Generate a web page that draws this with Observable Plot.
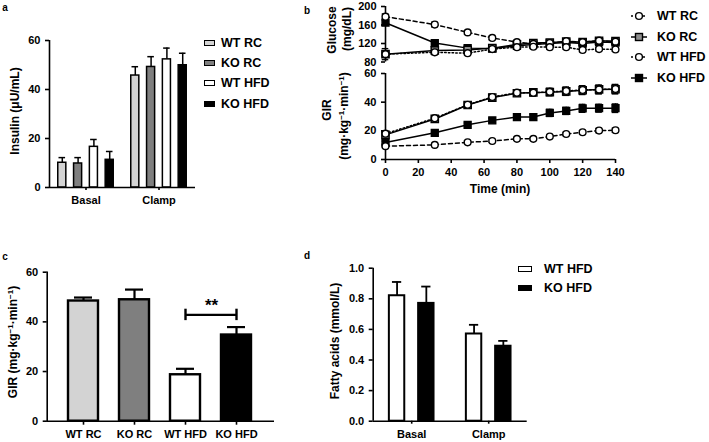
<!DOCTYPE html>
<html><head><meta charset="utf-8">
<script src="https://cdn.jsdelivr.net/npm/d3@7"></script>
<script src="https://cdn.jsdelivr.net/npm/@observablehq/plot@0.6"></script>
<style>
html,body{margin:0;padding:0;background:#fff;}
#root{position:relative;width:709px;height:442px;overflow:hidden;font-family:"Liberation Sans",Arial,sans-serif;font-weight:bold;color:#000;}
.lbl{position:absolute;font-size:11px;font-weight:bold;white-space:nowrap;line-height:1;}
.lbl sup{font-size:8px;vertical-align:baseline;position:relative;top:-4px;}
.panel{position:absolute;}
#root svg g[aria-label*="axis"] path,#root svg g[aria-label*="axis"] line{stroke-width:1.6px;}
#root svg [aria-label*="frame"],#root svg [aria-label*="frame"] *{stroke-width:1.6px;}
</style>
</head><body><div id="root"></div>
<script>
// ---------- data ----------
const groups = ["WT RC", "KO RC", "WT HFD", "KO HFD"];
const conditions = ["Basal", "Clamp"];

// panel a: insulin (µU/mL)
const insulinBasal = [10.1, 9.8, 16.6, 11.3];
const insulinBasalErr = [2.1, 2.4, 3.0, 3.4];
const insulinClamp = [45.7, 49.2, 52.3, 49.9];
const insulinClampErr = [3.6, 4.2, 4.6, 4.9];

// panel b: time course
const timeMin = [0, 30, 50, 65, 80, 90, 100, 110, 120, 130, 140];
const glucoseWTRC = [97, 101, 99, 108, 112, 113, 112, 112, 106, 108, 107];
const glucoseKORC = [97, 105, 106, 110, 118, 121, 122, 124, 123, 126, 125];
const glucoseWTHFD = [178, 161, 144, 132, 123, 119, 121, 125, 123, 126, 124];
const glucoseKOHFD = [165, 121, 110, 109, 115, 118, 120, 122, 120, 123, 122];
const glucoseWTRCErr = [12, 5, 4, 4, 4, 4, 4, 4, 4, 4, 4];
const glucoseKORCErr = [5, 4, 4, 4, 4, 5, 5, 5, 5, 5, 5];
const glucoseWTHFDErr = [6, 5, 4, 4, 4, 4, 4, 4, 4, 4, 4];
const glucoseKOHFDErr = [5, 4, 5, 4, 4, 4, 4, 5, 5, 5, 5];
const girWTRC = [18.0, 28.8, 38.2, 43.6, 46.6, 46.6, 47.2, 47.8, 48.5, 48.8, 49.2];
const girKORC = [17.2, 28.3, 38.0, 43.2, 46.2, 46.8, 47.0, 47.5, 48.3, 48.9, 49.0];
const girWTHFD = [9.3, 10.2, 12.0, 12.9, 14.4, 14.4, 16.0, 17.8, 19.0, 20.2, 20.4];
const girKOHFD = [11.8, 18.6, 24.2, 27.3, 29.6, 29.6, 32.5, 33.9, 35.7, 35.8, 35.8];
const girWTRCErr = [1.5, 1.5, 1.8, 2, 2, 2.2, 2.5, 2.8, 3, 3, 3.2];
const girKORCErr = [1.5, 1.5, 1.8, 2, 2, 2.2, 2.5, 2.8, 3, 3, 3.2];
const girWTHFDErr = [1, 1, 1, 1, 1, 1, 1, 1.2, 1.2, 1.5, 1.5];
const girKOHFDErr = [1, 1, 1.3, 1.5, 1.8, 1.8, 2.5, 2.5, 2.8, 2.8, 3];

// panel c: steady-state GIR
const girSteady = [48.4, 48.9, 18.7, 34.7];
const girSteadyErr = [1.4, 4.1, 2.4, 3.2];
const sigLevel = 42.8;

// panel d: fatty acids (mmol/L)
const hfdGroups = ["WT HFD", "KO HFD"];
const faBasal = [0.82, 0.77];
const faBasalErr = [0.09, 0.11];
const faClamp = [0.57, 0.49];
const faClampErr = [0.06, 0.035];

// ---------- styles ----------
const FONT = '"Liberation Sans", Arial, sans-serif';
const fills = ["#d3d3d3", "#7f7f7f", "#ffffff", "#000000"];
const svgStyle = {fontFamily: FONT, fontSize: "11px", fontWeight: "bold", overflow: "visible", background: "transparent", color: "#000"};
const TITLE = 12, LEG = 12.5;

const root = document.getElementById("root");
function put(node, left, top) { node.classList.add("panel"); node.style.left = left + "px"; node.style.top = top + "px"; root.appendChild(node); }
function label(html, cx, cy, opts = {}) {
  const d = document.createElement("div");
  d.className = "lbl";
  d.innerHTML = html;
  d.style.left = cx + "px"; d.style.top = cy + "px";
  if (opts.size) d.style.fontSize = opts.size + "px";
  d.style.transform = opts.rot ? "translate(-50%,-50%) rotate(-90deg)" : (opts.left ? "translate(0,-50%)" : "translate(-50%,-50%)");
  root.appendChild(d);
  return d;
}

// ---------- panel a ----------
{
  const off = d3.scaleBand().domain(groups).range([-0.38, 0.38]).paddingInner(0.49);
  const rows = [];
  conditions.forEach((c, ci) => groups.forEach((g, gi) => {
    const v = ci === 0 ? insulinBasal[gi] : insulinClamp[gi];
    const e = ci === 0 ? insulinBasalErr[gi] : insulinClampErr[gi];
    const x1 = ci + 0.5 + off(g), x2 = x1 + off.bandwidth();
    rows.push({cond: c, group: g, v, top: v + e, x1, x2, cx: (x1 + x2) / 2});
  }));
  const cap = 0.045;
  const p = Plot.plot({
    width: 200, height: 215, marginLeft: 49, marginRight: 5, marginTop: 40, marginBottom: 28,
    style: svgStyle,
    x: {domain: [0, 2], ticks: [0.5, 1.5], tickFormat: i => conditions[Math.floor(i)], tickSize: 3, label: null},
    y: {domain: [0, 60], ticks: [0, 20, 40, 60], tickSize: 4, label: null},
    color: {domain: groups, range: fills},
    marks: [
      Plot.ruleX(rows, {x: "cx", y1: "v", y2: "top", strokeWidth: 1.5}),
      Plot.ruleY(rows, {x1: d => d.cx - cap, x2: d => d.cx + cap, y: "top", strokeWidth: 1.5}),
      Plot.rect(rows, {x1: "x1", x2: "x2", y1: d => 0, y2: "v", fill: "group", stroke: "#000", strokeWidth: 1.5}),
      Plot.ruleX([0], {y1: 0, y2: 60, strokeWidth: 1.6}),
      Plot.ruleY([0], {x1: 0, x2: 2, strokeWidth: 1.6})
    ]
  });
  put(p, 0, 0);
  label("Insulin (μU/mL)", 15, 111, {rot: true, size: TITLE});
  // legend a
  const ys = [43, 63, 83, 104];
  groups.forEach((g, i) => {
    const s = document.createElement("div");
    s.style.cssText = `position:absolute;left:204px;top:${ys[i] - 3.5}px;width:9px;height:4px;border:1.5px solid #000;background:${fills[i]};`;
    root.appendChild(s);
    label(g, 221, ys[i], {left: true, size: LEG});
  });
}

// ---------- panel b ----------
const series = [
  {name: "KO HFD", glu: glucoseKOHFD, gluE: glucoseKOHFDErr, gir: girKOHFD, girE: girKOHFDErr, symbol: "square", fill: "#000", dash: null, r: 3.9},
  {name: "KO RC", glu: glucoseKORC, gluE: glucoseKORCErr, gir: girKORC, girE: girKORCErr, symbol: "square", fill: "#8f8f8f", dash: null, r: 4.1},
  {name: "WT HFD", glu: glucoseWTHFD, gluE: glucoseWTHFDErr, gir: girWTHFD, girE: girWTHFDErr, symbol: "circle", fill: "#fff", dash: "4,3", r: 3.4},
  {name: "WT RC", glu: glucoseWTRC, gluE: glucoseWTRCErr, gir: girWTRC, girE: girWTRCErr, symbol: "circle", fill: "#fff", dash: "1.5,2.2", r: 3.4}
];
function seriesMarks(key, ekey) {
  const marks = [];
  for (const s of series) {
    const rows = timeMin.map((t, i) => ({t, v: s[key][i], e: s[ekey][i]}));
    marks.push(Plot.line(rows, {x: "t", y: "v", stroke: "#000", strokeWidth: 1.5, strokeDasharray: s.dash}));
    marks.push(Plot.ruleX(rows, {x: "t", y1: d => d.v - d.e, y2: d => d.v + d.e, strokeWidth: 1.3}));
    marks.push(Plot.ruleY(rows, {x1: d => d.t - 2, x2: d => d.t + 2, y: d => d.v + d.e, strokeWidth: 1.3}));
    marks.push(Plot.ruleY(rows, {x1: d => d.t - 2, x2: d => d.t + 2, y: d => d.v - d.e, strokeWidth: 1.3}));
    marks.push(Plot.dot(rows, {x: "t", y: "v", symbol: s.symbol, r: s.r, fill: s.fill, stroke: "#000", strokeWidth: 1.4}));
  }
  return marks;
}
{
  const pg = Plot.plot({
    width: 330, height: 66, marginLeft: 85, marginRight: 15, marginTop: 6, marginBottom: 4.5,
    style: svgStyle,
    x: {domain: [0, 140], axis: null},
    y: {domain: [80, 200], ticks: [80, 120, 160, 200], tickSize: 4, label: null},
    marks: [
      Plot.ruleX([0], {y1: 80, y2: 200, strokeWidth: 1.6}),
      ...seriesMarks("glu", "gluE")
    ]
  });
  put(pg, 300, 0);
  const pr = Plot.plot({
    width: 330, height: 130, marginLeft: 85, marginRight: 15, marginTop: 7, marginBottom: 37,
    style: svgStyle,
    x: {domain: [0, 140], ticks: d3.range(0, 141, 20), tickSize: 4, label: null},
    y: {domain: [0, 60], ticks: [0, 20, 40, 60], tickSize: 4, label: null},
    marks: [
      Plot.ruleX([0], {y1: 0, y2: 60, strokeWidth: 1.6}),
      Plot.ruleY([0], {x1: 0, x2: 140, strokeWidth: 1.6}),
      ...seriesMarks("gir", "girE")
    ]
  });
  put(pr, 300, 66);
  label("Glucose", 332, 30, {rot: true, size: TITLE});
  label("(mg/dL)", 347, 29, {rot: true, size: TITLE});
  label("GIR", 327, 110, {rot: true, size: TITLE});
  label("(mg·kg<sup>−1</sup>·min<sup>−1</sup>)", 344, 116, {rot: true, size: TITLE});
  label("Time (min)", 500, 189, {size: TITLE});
  // legend b
  const ys = [16, 37, 57, 78];
  const order = ["WT RC", "KO RC", "WT HFD", "KO HFD"];
  order.forEach((n, i) => {
    const s = series.find(q => q.name === n);
    const sv = document.createElementNS("http://www.w3.org/2000/svg", "svg");
    sv.setAttribute("width", 18); sv.setAttribute("height", 12);
    sv.style.cssText = `position:absolute;left:630px;top:${ys[i] - 6}px;overflow:visible`;
    const mk = s.symbol === "circle"
      ? `<circle cx="9" cy="6" r="${s.r}" fill="${s.fill}" stroke="#000" stroke-width="1.4"/>`
      : `<rect x="${9 - 3.5}" y="2.5" width="7" height="7" fill="${s.fill}" stroke="#000" stroke-width="1.4"/>`;
    sv.innerHTML = `<line x1="1" x2="17" y1="6" y2="6" stroke="#000" stroke-width="1.5" ${s.dash ? `stroke-dasharray="2,2"` : ""}/>` + mk;
    root.appendChild(sv);
    label(n, 657, ys[i], {left: true, size: LEG});
  });
}

// ---------- panel c ----------
{
  const rows = groups.map((g, i) => ({group: g, v: girSteady[i], top: girSteady[i] + girSteadyErr[i]}));
  const p = Plot.plot({
    width: 280, height: 192, marginLeft: 46.7, marginRight: 7.3, marginTop: 21.7, marginBottom: 21.3,
    style: svgStyle,
    x: {domain: groups, paddingInner: 0.42, paddingOuter: 0.41, tickSize: 4, label: null, line: true},
    y: {domain: [0, 60], ticks: [0, 20, 40, 60], tickSize: 4, label: null, line: true},
    color: {domain: groups, range: fills},
    marks: [
      Plot.ruleX(rows, {x: "group", y1: "v", y2: "top", strokeWidth: 2.2}),
      Plot.tickY(rows, {x: "group", y: "top", strokeWidth: 2.2, insetLeft: 6, insetRight: 6}),
      Plot.barY(rows, {x: "group", y: "v", fill: "group", stroke: "#000", strokeWidth: 2.4}),
      Plot.link([{a: "WT HFD", b: "KO HFD", y: sigLevel}], {x1: "a", x2: "b", y1: "y", y2: "y", strokeWidth: 2.4}),
      Plot.ruleX(["WT HFD", "KO HFD"], {x: d => d, y1: sigLevel - 2.3, y2: sigLevel + 2.3, strokeWidth: 2.4}),
      Plot.text([{a: "WT HFD", y: sigLevel}], {x: "a", y: "y", text: () => "**", dx: 26, dy: -9, fontSize: 17, fontWeight: "bold"})
    ]
  });
  put(p, 0, 250);
  label("GIR (mg·kg<sup>−1</sup>·min<sup>−1</sup>)", 13, 342, {rot: true, size: TITLE});
}

// ---------- panel d ----------
{
  const off = d3.scaleBand().domain(hfdGroups).range([-0.29, 0.29]).paddingInner(0.474);
  const rows = [];
  conditions.forEach((c, ci) => hfdGroups.forEach((g, gi) => {
    const v = ci === 0 ? faBasal[gi] : faClamp[gi];
    const e = ci === 0 ? faBasalErr[gi] : faClampErr[gi];
    const x1 = ci + 0.5 + off(g), x2 = x1 + off.bandwidth();
    rows.push({group: g, v, top: v + e, x1, x2, cx: (x1 + x2) / 2});
  }));
  const cap = 0.06;
  const p = Plot.plot({
    width: 245, height: 192, marginLeft: 82.7, marginRight: 8.3, marginTop: 17.7, marginBottom: 21.3,
    style: svgStyle,
    x: {domain: [0, 2], ticks: [0.5, 1.5], tickFormat: i => conditions[Math.floor(i)], tickSize: 3, label: null},
    y: {domain: [0, 1], ticks: d3.range(0, 1.01, 0.2), tickFormat: d3.format(".1f"), tickSize: 4, label: null},
    color: {domain: hfdGroups, range: ["#ffffff", "#000000"]},
    marks: [
      Plot.ruleX(rows, {x: "cx", y1: "v", y2: "top", strokeWidth: 1.8}),
      Plot.ruleY(rows, {x1: d => d.cx - cap, x2: d => d.cx + cap, y: "top", strokeWidth: 1.8}),
      Plot.rect(rows, {x1: "x1", x2: "x2", y1: d => 0, y2: "v", fill: "group", stroke: "#000", strokeWidth: 2}),
      Plot.ruleX([0], {y1: 0, y2: 1, strokeWidth: 1.6}),
      Plot.ruleY([0], {x1: 0, x2: 2, strokeWidth: 1.6})
    ]
  });
  put(p, 290, 250);
  label("Fatty acids (mmol/L)", 335, 341, {rot: true, size: TITLE});
  const ys = [269, 288];
  hfdGroups.forEach((g, i) => {
    const s = document.createElement("div");
    s.style.cssText = `position:absolute;left:518px;top:${ys[i] - 3.5}px;width:12px;height:4px;border:1.5px solid #000;background:${i ? "#000" : "#fff"};`;
    root.appendChild(s);
    label(g, 544, ys[i], {left: true, size: LEG});
  });
}

// panel letters
label("a", 5, 8, {size: 10});
label("b", 307, 11, {size: 10});
label("c", 5, 257, {size: 10});
label("d", 307, 256, {size: 10});
</script>
</body></html>
